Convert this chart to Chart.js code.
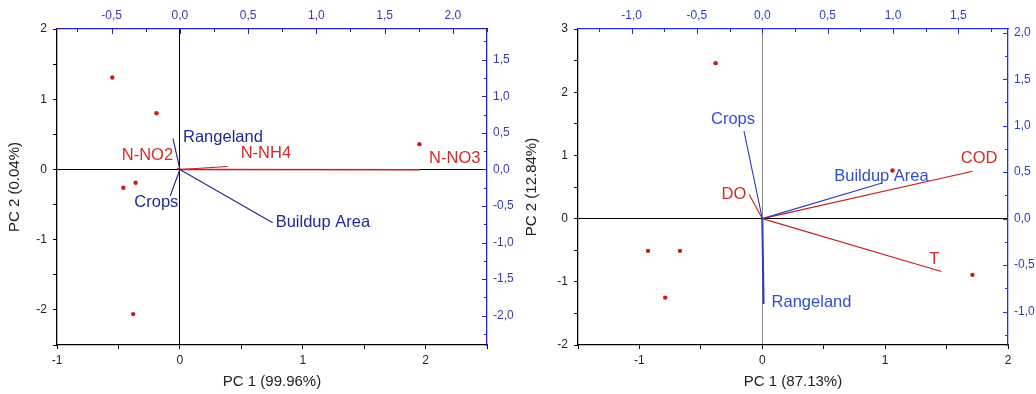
<!DOCTYPE html>
<html><head><meta charset="utf-8">
<script src="https://cdn.jsdelivr.net/npm/chart.js@4.4.1/dist/chart.umd.min.js"></script>
<style>
html,body{margin:0;padding:0;background:#fff;}
#wrap{position:relative;width:1036px;height:394px;}
canvas{position:absolute;top:0;}
</style></head><body>
<div id="wrap">
<canvas id="c1" width="518" height="394" style="left:0"></canvas>
<canvas id="c2" width="518" height="394" style="left:518px"></canvas>
</div>
<script>
// ---------- Left biplot data ----------
const leftScoreX = [-0.55, -0.19, -0.46, -0.36, -0.38, 1.95];
const leftScoreY = [1.31, 0.80, -0.26, -0.19, -2.06, 0.36];
const leftVarNames = ['Rangeland', 'Crops', 'Buildup Area', 'N-NO3', 'N-NH4', 'N-NO2'];
const leftVarGroup = ['land', 'land', 'land', 'water', 'water', 'water'];
const leftLoadX = [-0.05, -0.07, 0.68, 1.76, 0.35, -0.02];
const leftLoadY = [0.42, -0.36, -0.73, -0.005, 0.04, 0.02];
const leftTitleX = 'PC 1 (99.96%)';
const leftTitleY = 'PC 2 (0.04%)';

// ---------- Right biplot data ----------
const rightScoreX = [-0.38, -0.93, -0.67, -0.79, 1.71, 1.06];
const rightScoreY = [2.46, -0.51, -0.51, -1.25, -0.89, 0.76];
const rightVarNames = ['Crops', 'DO', 'Buildup Area', 'COD', 'T', 'Rangeland'];
const rightVarGroup = ['land', 'water', 'land', 'water', 'water', 'land'];
const rightLoadX = [-0.14, -0.10, 0.91, 1.61, 1.37, 0.01];
const rightLoadY = [0.94, 0.26, 0.38, 0.51, -0.57, -0.92];
const rightTitleX = 'PC 1 (87.13%)';
const rightTitleY = 'PC 2 (12.84%)';

// ---------- label placement (pixel offsets from vector tip) ----------
const leftLabelOffsets = [[10,-1,'left'],[-36,7,'left'],[3,0,'left'],[9,-11,'left'],[13,-13,'left'],[-4,-13,'right']];
const rightLabelOffsets = [[-33,-12,'left'],[-3,0,'right'],[-47,-7,'left'],[-12,-13,'left'],[-12,-12,'left'],[8,-2,'left']];
const leftLineWidths = [1.1, 1.1, 1.1, 1.4, 1.1, 1.1];
const rightLineWidths = [1.1, 1.1, 1.1, 1.1, 1.1, 2];

const FONT = "'Liberation Sans', Arial, sans-serif";
const RED = '#d42a2a';
const PT_RED = '#d01818';

function fmtComma(v){
  if (Math.abs(v*2 - Math.round(v*2)) > 1e-6) return '';
  let s = (Math.round(v*10)/10).toFixed(1).replace('.', ',');
  if (s === '-0,0') s = '0,0';
  return s;
}
function fmtInt(v){
  if (Math.abs(v - Math.round(v)) > 1e-6) return '';
  return String(Math.round(v));
}

const innerTicks = {
  id: 'innerTicks',
  afterDraw(chart, args, opts){
    const ctx = chart.ctx, ca = chart.chartArea;
    ctx.save();
    ctx.strokeStyle = opts.color; ctx.lineWidth = 1;
    ['x2','y2'].forEach(id => {
      const sc = chart.scales[id];
      sc.ticks.forEach(t => {
        const p = Math.round(sc.getPixelForValue(t.value)) + 0.5;
        const len = t.label !== '' ? 5 : 3;
        ctx.beginPath();
        if (id === 'x2'){ ctx.moveTo(p, ca.top); ctx.lineTo(p, ca.top + len); }
        else { ctx.moveTo(ca.right, p); ctx.lineTo(ca.right - len, p); }
        ctx.stroke();
      });
    });
    ctx.restore();
  }
};

const vecLabels = {
  id: 'vecLabels',
  afterDatasetsDraw(chart){
    const ctx = chart.ctx;
    ctx.save();
    chart.data.datasets.forEach((ds, i) => {
      if (!ds.vecName) return;
      const tip = chart.getDatasetMeta(i).data[1];
      ctx.font = '16.5px ' + FONT;
      ctx.fillStyle = ds.textColor;
      ctx.textAlign = ds.off[2];
      ctx.textBaseline = 'middle';
      ctx.fillText(ds.vecName, tip.x + ds.off[0], tip.y + ds.off[1]);
    });
    ctx.restore();
  }
};

function makeChart(canvasId, cfg){
  const datasets = [{
    type: 'scatter',
    data: cfg.sx.map((x, i) => ({x, y: cfg.sy[i]})),
    xAxisID: 'x', yAxisID: 'y',
    pointRadius: 2.2, pointHoverRadius: 2.2,
    pointBackgroundColor: PT_RED, pointBorderWidth: 0, showLine: false
  }];
  cfg.names.forEach((n, i) => {
    const col = cfg.group[i] === 'land' ? cfg.blueLine : '#c81e1e';
    datasets.push({
      type: 'line', vecName: n, off: cfg.offs[i],
      textColor: cfg.group[i] === 'land' ? cfg.blueText : RED,
      data: [{x:0, y:0}, {x: cfg.lx[i], y: cfg.ly[i]}],
      xAxisID: 'x2', yAxisID: 'y2',
      borderColor: col, borderWidth: cfg.lw[i], pointRadius: 0, fill: false, tension: 0
    });
  });
  const tickFont = {family: FONT, size: 12};
  const titleFont = {family: FONT, size: 15};
  return new Chart(document.getElementById(canvasId), {
    data: {datasets},
    plugins: [innerTicks, vecLabels],
    options: {
      responsive: false, animation: false, devicePixelRatio: 1,
      layout: {padding: 0},
      plugins: {legend: {display: false}, tooltip: {enabled: false}, innerTicks: {color: cfg.axisBlue}},
      scales: {
        x: {
          type: 'linear', position: 'bottom', min: cfg.xr[0], max: cfg.xr[1],
          ticks: {stepSize: 0.5, autoSkip: false, includeBounds: false, maxRotation: 0, callback: fmtInt, font: tickFont, color: '#222', padding: 4},
          grid: {drawOnChartArea: true, drawTicks: true, tickLength: 4, tickColor: '#000',
                 color: c => (c.tick && Math.abs(c.tick.value) < 1e-9) ? cfg.vzero : 'rgba(0,0,0,0)', lineWidth: 1},
          border: {display: true, color: '#000', width: 1.3},
          title: {display: true, text: cfg.tx, font: titleFont, color: '#222', padding: {top: 0, bottom: 3}},
          afterFit: s => { s.height = 49; }
        },
        y: {
          type: 'linear', position: 'left', min: cfg.yr[0], max: cfg.yr[1],
          ticks: {stepSize: 0.5, autoSkip: false, includeBounds: false, callback: fmtInt, font: tickFont, color: '#222', padding: 6},
          grid: {drawOnChartArea: true, drawTicks: true, tickLength: 4, tickColor: '#000',
                 color: c => (c.tick && Math.abs(c.tick.value) < 1e-9) ? '#000' : 'rgba(0,0,0,0)', lineWidth: 1},
          border: {display: true, color: '#000', width: 1.3},
          title: {display: true, text: cfg.ty, font: titleFont, color: '#222', padding: {top: cfg.ytPad, bottom: 0}},
          afterFit: s => { s.width = cfg.leftW; }
        },
        x2: {
          type: 'linear', position: 'top', min: cfg.x2r[0], max: cfg.x2r[1],
          ticks: {stepSize: 0.25, autoSkip: false, includeBounds: false, maxRotation: 0, callback: fmtComma, font: tickFont, color: cfg.labelBlue, padding: 6},
          grid: {drawOnChartArea: false, drawTicks: false},
          border: {display: true, color: cfg.axisBlue, width: 1.3},
          afterFit: s => { s.height = 29; }
        },
        y2: {
          type: 'linear', position: 'right', min: cfg.y2r[0], max: cfg.y2r[1],
          ticks: {stepSize: 0.25, autoSkip: false, includeBounds: false, callback: fmtComma, font: tickFont, color: cfg.labelBlue, padding: 6},
          grid: {drawOnChartArea: false, drawTicks: false},
          border: {display: true, color: cfg.axisBlue, width: 1.3},
          afterFit: s => { s.width = cfg.rightW; }
        }
      }
    }
  });
}

makeChart('c1', {
  sx: leftScoreX, sy: leftScoreY, names: leftVarNames, group: leftVarGroup,
  lx: leftLoadX, ly: leftLoadY, offs: leftLabelOffsets, lw: leftLineWidths,
  xr: [-1, 2.5], yr: [-2.5, 2], x2r: [-0.9, 2.25], y2r: [-2.4, 1.92],
  tx: leftTitleX, ty: leftTitleY, leftW: 57, rightW: 31, ytPad: 6,
  blueLine: '#23238f', blueText: '#1f2a96', axisBlue: '#2323b8', labelBlue: '#3a3aa8', vzero: '#000'
});
makeChart('c2', {
  sx: rightScoreX, sy: rightScoreY, names: rightVarNames, group: rightVarGroup,
  lx: rightLoadX, ly: rightLoadY, offs: rightLabelOffsets, lw: rightLineWidths,
  xr: [-1.5, 2], yr: [-2, 3], x2r: [-1.41, 1.88], y2r: [-1.36, 2.04],
  tx: rightTitleX, ty: rightTitleY, leftW: 60, rightW: 28, ytPad: 5,
  blueLine: '#2a3cc0', blueText: '#3050c8', axisBlue: '#1f34e0', labelBlue: '#2a3ec8', vzero: '#888'
});
</script>
</body></html>
